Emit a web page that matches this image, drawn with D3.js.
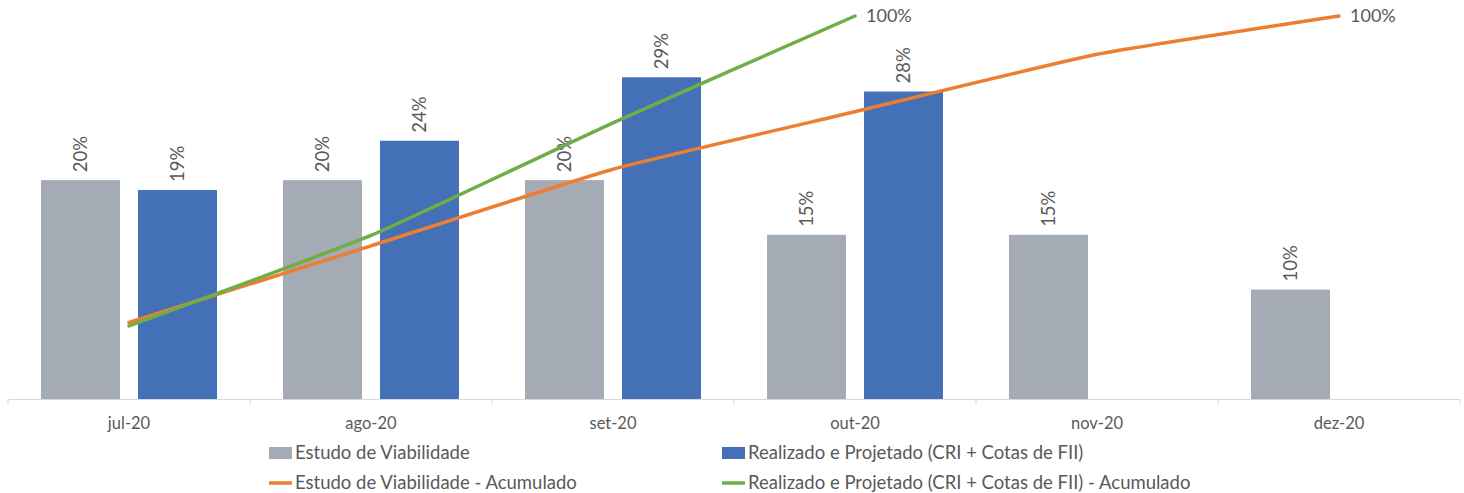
<!DOCTYPE html>
<html>
<head>
<meta charset="utf-8">
<script src="https://cdn.jsdelivr.net/npm/d3@7"></script>
<style>
  body { margin: 0; background: #fff; }
  svg { font-family: Lato, "Open Sans", sans-serif; }
</style>
</head>
<body>
<svg width="1464" height="493"></svg>
<script>
(function () {

	var months = ['jul-20', 'ago-20', 'set-20', 'out-20', 'nov-20', 'dez-20'];
	var estudo = [20, 20, 20, 15, 15, 10];
	var realizado = [19.1, 23.6, 29.4, 28.1];
	var estudoAcum = [20, 40, 60, 75, 90, 100];
	var realizadoAcum = [19.1, 42.7, 72.1, 100];
	var seriesNames = ['Estudo de Viabilidade', 'Realizado e Projetado (CRI + Cotas de FII)',
		'Estudo de Viabilidade - Acumulado', 'Realizado e Projetado (CRI + Cotas de FII) - Acumulado'];

	var grey = '#a5abb5', blue = '#4470b8', orange = '#ed7d31', green = '#70ad47';
	var textColor = '#595959';

	var svg = d3.select('svg');

	var x0 = d3.scaleBand().domain(months).range([8, 1460]);
	var x1 = d3.scaleBand().domain(['e', 'r']).range([33, 209]).paddingInner(0.186);
	var yBar = d3.scaleLinear().domain([0, 35]).range([399, 16]);
	var yLine = d3.scaleLinear().domain([0, 100]).range([399, 16]);

	// axis
	var axis = svg.append('g').attr('transform', 'translate(0,399)')
		.call(d3.axisBottom(x0).tickSize(0).tickPadding(18));
	axis.select('.domain').attr('stroke', '#d9d9d9');
	axis.selectAll('text').attr('font-size', 16.5).attr('fill', textColor)
		.attr('font-family', 'Lato, "Open Sans", sans-serif');
	svg.append('g').selectAll('line')
		.data(d3.range(months.length + 1))
		.enter().append('line')
		.attr('x1', function (d) { return 8 + d * x0.step(); })
		.attr('x2', function (d) { return 8 + d * x0.step(); })
		.attr('y1', 399).attr('y2', 405)
		.attr('stroke', '#d9d9d9');

	var bars = [];
	estudo.forEach(function (v, i) { bars.push({ m: months[i], s: 'e', v: v, c: grey }); });
	realizado.forEach(function (v, i) { bars.push({ m: months[i], s: 'r', v: v, c: blue }); });

	svg.append('g').selectAll('rect')
		.data(bars)
		.enter().append('rect')
		.attr('x', function (d) { return x0(d.m) + x1(d.s); })
		.attr('width', x1.bandwidth())
		.attr('y', function (d) { return yBar(d.v); })
		.attr('height', function (d) { return 399 - yBar(d.v); })
		.attr('fill', function (d) { return d.c; });

	svg.append('g').selectAll('text')
		.data(bars)
		.enter().append('text')
		.attr('transform', function (d) {
			var cx = x0(d.m) + x1(d.s) + x1.bandwidth() / 2;
			return 'translate(' + cx + ',' + (yBar(d.v) - 8) + ') rotate(-90)';
		})
		.attr('dy', '0.35em')
		.attr('font-size', 18.5)
		.attr('fill', textColor)
		.text(function (d) { return Math.round(d.v) + '%'; });

	// cumulative lines
	var line = d3.line()
		.x(function (d, i) { return x0(months[i]) + x0.bandwidth() / 2; })
		.y(function (d) { return yLine(d); })
		.curve(d3.curveCardinal.tension(0.6));

	[[estudoAcum, orange], [realizadoAcum, green]].forEach(function (s) {
		svg.append('path')
			.attr('d', line(s[0]))
			.attr('fill', 'none')
			.attr('stroke', s[1])
			.attr('stroke-width', 3.5)
			.attr('stroke-linecap', 'round');
		var last = s[0].length - 1;
		svg.append('text')
			.attr('x', x0(months[last]) + x0.bandwidth() / 2 + 11)
			.attr('y', yLine(s[0][last]))
			.attr('dy', '0.35em')
			.attr('font-size', 18)
			.attr('fill', textColor)
			.text(Math.round(s[0][last]) + '%');
	});

	// legend
	var legend = [
		{ name: seriesNames[0], c: grey, type: 'bar', x: 269, y: 453 },
		{ name: seriesNames[1], c: blue, type: 'bar', x: 722, y: 453 },
		{ name: seriesNames[2], c: orange, type: 'line', x: 269, y: 483 },
		{ name: seriesNames[3], c: green, type: 'line', x: 722, y: 483 }
	];
	var lg = svg.append('g').selectAll('g')
		.data(legend)
		.enter().append('g')
		.attr('transform', function (d) { return 'translate(' + d.x + ',' + d.y + ')'; });
	lg.filter(function (d) { return d.type === 'bar'; })
		.append('rect')
		.attr('x', 0).attr('y', -6).attr('width', 23).attr('height', 12)
		.attr('fill', function (d) { return d.c; });
	lg.filter(function (d) { return d.type === 'line'; })
		.append('line')
		.attr('x1', 0).attr('x2', 23).attr('y1', 0).attr('y2', 0)
		.attr('stroke', function (d) { return d.c; })
		.attr('stroke-width', 3.5);
	lg.append('text')
		.attr('x', 26)
		.attr('dy', '0.35em')
		.attr('font-size', 18.5)
		.attr('fill', textColor)
		.text(function (d) { return d.name; });

})();
</script>
</body>
</html>
